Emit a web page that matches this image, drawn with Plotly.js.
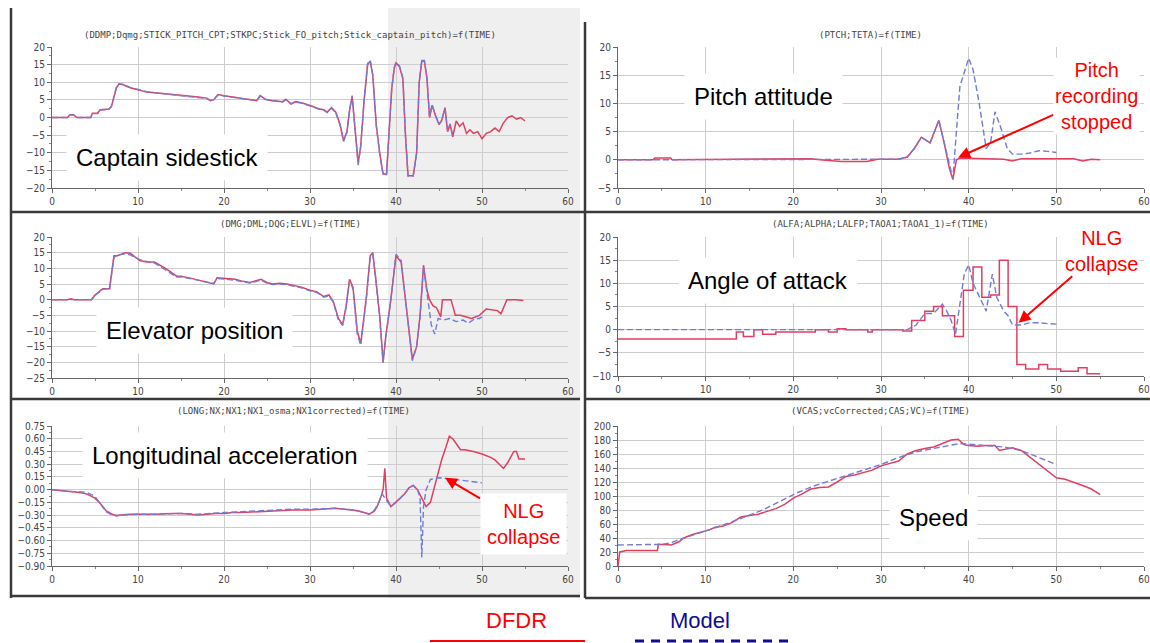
<!DOCTYPE html>
<html>
<head>
<meta charset="utf-8">
<script src="https://cdn.plot.ly/plotly-3.0.1.min.js"></script>
<style>html,body{margin:0;padding:0;background:#fff;}#chart{width:1150px;height:643px;}</style>
</head>
<body>
<div id="chart"></div>
<script>
// ---------- DATA ----------
// Captain sidestick
const stickTime = [0,1.8,2.1,2.5,2.9,4.5,4.7,5.3,5.6,6.6,6.9,7.2,7.5,7.8,8.3,9,10,11,12,13,14,15,16,17,18,18.4,18.8,19.3,20,21,22,23,23.8,24.2,24.8,25.5,26.2,26.8,27.2,27.8,28.3,29,30,31,31.6,32,32.5,33,33.5,33.9,34.3,34.6,34.9,35.2,35.6,35.9,36.3,36.7,37,37.3,37.7,38.1,38.5,38.9,39.2,39.5,39.8,40,40.4,40.8,41.1,41.4,42,42.4,42.7,43,43.3,43.6,43.9,44.2,44.6,45,45.3,45.7,46,46.3,46.6,47,47.4,47.8,48.2,48.6,49,49.5,50,50.5,51,51.5,52,52.5,53,53.5,54,54.5,55];
const stickDFDR = [0,0,0.8,0.8,0,0,1.2,1.2,2.2,2.4,3,6,8.5,9.5,9.3,8.5,7.8,7.2,7,6.8,6.5,6.3,6,5.8,5.5,4.8,5,6.5,6.2,5.8,5.5,5,4.8,6.2,5.2,4.8,4.6,4.5,5.2,3.8,4.5,4.2,3.4,2.5,2.2,1.5,2.8,1.5,-2,-6.5,-4,2,6,-2,-13,-8,5,15,16,12,-2,-10,-16,-16,-5,8,14,15.5,14.5,11,-5,-16.5,-16.5,-10,10,16,16,11,0,3.5,0.5,-2,-1,2.8,-4,-2,-5.5,-1,-2.5,-1.5,-4.5,-3.5,-4.5,-4,-6,-4.5,-4,-3,-4,-1.5,0,0.5,-0.5,0,-1];
const stickModelTime = [0,1.8,2.1,2.5,2.9,4.5,4.7,5.3,5.6,6.6,6.9,7.2,7.5,7.8,8.3,9,10,11,12,13,14,15,16,17,18,18.4,18.8,19.3,20,21,22,23,23.8,24.2,24.8,25.5,26.2,26.8,27.2,27.8,28.3,29,30,31,31.6,32,32.5,33,33.5,33.9,34.3,34.6,34.9,35.2,35.6,35.9,36.3,36.7,37,37.3,37.7,38.1,38.5,38.9,39.2,39.5,39.8,40,40.4,40.8,41.1,41.4,42,42.4,42.7,43,43.3,43.6,43.9,44.2,44.6,45,45.3,45.7,46,46.3,46.6,47];
const stickModel = [0,0,0.7,0.7,0,0,1.1,1.1,2.1,2.3,3.2,6.2,8.7,9.6,9.4,8.6,7.9,7.3,7,6.7,6.4,6.2,5.9,5.6,5.4,4.9,5.1,6.4,6.1,5.7,5.4,5.1,4.8,6,5.1,4.8,4.5,4.4,5,3.9,4.4,4.1,3.3,2.4,2.1,1.4,2.6,1.3,-2.2,-6.8,-4.2,2.2,6.2,-2.2,-13.5,-8.2,5.2,15.3,16.2,12.2,-2.2,-10.3,-16.2,-16.2,-5.2,8.2,14.3,15.7,14.6,11.2,-5.2,-16.6,-16.6,-10.2,10.2,16.2,16.2,11.2,0.2,3.6,0.6,-1.8,-0.8,2.6,-3.8,-1.8,-5.2];

// Pitch attitude
const pitchTime = [0,4,4.2,6,6.2,19.3,19.8,22,23,25.5,28.4,29.6,32,33,33.8,34.6,35.6,36.6,37.2,37.8,38.2,38.6,39,40,42,44,45,46,48,50,52,53,54,55];
const pitchDFDR = [0,0,0.3,0.3,0,0.1,0.2,0.2,0,-0.3,-0.3,0.1,0.1,0.5,2,4,3,7,3,-1.5,-3.5,0,0.3,0.3,0.2,0.1,-0.2,0.2,0.2,0.1,0.2,-0.2,0.1,0];
const pitchModelTime = [0,10,20,30,32,33,33.8,34.6,35.6,36.6,37.2,37.8,38.2,38.6,39,40,40.5,41.2,42,42.5,43,43.6,44.4,45,46,47,48,49,50];
const pitchModel = [0,0,0,0,0.1,0.5,2,4,3,7,3,-1,-3.3,5,13,18,16,10,2,3,8.5,6,2,1,1,1.2,1.6,1.5,1.3];

// Elevator position
const elevTime = [0,1.8,2.2,2.6,4.6,5,5.9,6.7,7.2,7.6,8.5,9.1,10.2,11,11.9,13.2,14.5,15,16.2,17.5,18.8,19.2,20,21.3,22,23,24.3,25,25.6,26.5,27.3,28,29,30,30.8,31.6,32.2,32.7,33.3,33.8,34.2,34.6,35,35.5,35.9,36.3,36.6,37,37.3,37.6,38.1,38.5,38.8,39.4,40,40.6,41,41.3,41.9,42.4,42.8,43.2,43.6,43.9,44.3,44.7,45.2,45.4,46.4,46.9,47.5,48.8,49.7,50.5,51.8,52.2,52.9,54,54.8];
const elevDFDR = [0,0,0.3,0,0,1.5,3.5,3.5,14,14,15,14.8,12.5,12,12,10,7.5,7.5,6.8,6,5,7,6.8,6.5,6,5.5,6.5,5.5,5,5.2,5,4.5,4,3,2.5,1,1.5,-0.5,-6,-8,-2,6.5,4,-10,-14,-5,2,14,15,8,-5,-20,-12,0,14,12,2,-6,-19,-15,-5,11,3,0,-2,-2.5,-5.5,0,0,-5,-5,-6,-5,-3,-3.5,-4.5,0,0,-0.3];
const elevModelTime = [0,1.8,2.2,2.6,4.6,5,5.9,6.7,7.2,7.6,8.5,9.1,10.2,11,11.9,13.2,14.5,15,16.2,17.5,18.8,19.2,20,21.3,22,23,24.3,25,25.6,26.5,27.3,28,29,30,30.8,31.6,32.2,32.7,33.3,33.8,34.2,34.6,35,35.5,35.9,36.3,36.6,37,37.3,37.6,38.1,38.5,38.8,39.4,40,40.6,41,41.3,41.9,42.4,42.8,43.2,43.6,44.1,44.5,44.9,45.5,46.2,47,47.8,48.4,49.2,49.7,50];
const elevModel = [0,0,0.2,0,0,1.3,3.3,3.6,13.5,14.2,14.6,14.3,12.8,12.2,11.7,9.5,7.2,7.3,6.6,5.8,5.2,6.8,6.6,6.2,5.8,5.3,6.2,5.3,4.8,5,4.8,4.3,3.8,2.8,2.3,0.8,1.2,-0.8,-6.5,-8.3,-2.5,6,3.5,-11,-14.5,-5.5,1.5,13.5,14.5,7.5,-5.5,-20,-12.5,0,14.5,12.5,2.5,-5.5,-19.5,-15,-5.5,10.5,2,-8,-11,-6,-6.5,-6,-7,-6.5,-7.5,-6,-6,-5.5];

// Angle of attack
const aoaTime = [0,13.5,14.3,15.5,16.5,18,22.5,24,25,26,28.5,29,32.5,33.5,35,36,37,38.4,39.4,40.5,41.5,42.5,43.5,44.5,45.5,46.5,48,49,50.5,52.5,53.5,55];
const aoaDFDR = [-2,-0.5,-1.5,0,-1,-0.5,0,-0.5,0.2,0,-0.5,0,-0.3,2,4,5,3,-1.5,8.5,13.5,7,7.5,15,5,-7.5,-8.5,-7.5,-8.5,-9,-8.2,-9.5,-9.5];
const aoaModelTime = [0,10,20,30,33,34,35,36,36.5,37,37.5,38,38.5,39,39.5,40,40.5,41,41.5,42,42.7,43.2,44,44.5,45,46,47,48,49,50];
const aoaModel = [0,0,0,0,0,1,3.5,3.5,4.5,5.5,4,2,-1,5,12,14,10,8,6,4,12,7,4,3,1,1,1.5,1.5,1.3,1.2];

// Longitudinal acceleration
const nxTime = [0,1,2,3,4,5,5.5,6.3,7,7.5,8,9,10,12,14,15,16,17,18,19,20,21,22,24,26,27,28,30,32,33,34,35,36,36.9,37.5,37.8,38.2,38.5,38.7,38.9,39.4,40,40.5,41,41.5,42,42.5,43,43.5,44,44.4,44.8,45.3,45.8,46.2,46.6,47.5,48,49,50,51,51.5,52,52.5,53,53.7,54,54.3,55];
const nxDFDR = [0,-0.01,-0.02,-0.03,-0.05,-0.1,-0.15,-0.25,-0.29,-0.31,-0.3,-0.29,-0.29,-0.29,-0.28,-0.28,-0.29,-0.3,-0.29,-0.28,-0.28,-0.27,-0.27,-0.26,-0.25,-0.25,-0.24,-0.24,-0.23,-0.22,-0.23,-0.24,-0.26,-0.29,-0.25,-0.2,-0.1,0,0.25,-0.1,-0.2,-0.15,-0.1,-0.05,0.02,0.05,0,-0.1,-0.2,-0.15,0,0.15,0.35,0.5,0.63,0.6,0.47,0.47,0.45,0.42,0.38,0.35,0.3,0.25,0.32,0.45,0.45,0.36,0.36];
const nxModelTime = [0,2,4,5,5.5,6.3,7,8,10,12,15,17,20,22,25,28,30,32,33,35,36,36.9,37.5,38,38.4,38.7,39.4,40,40.5,41,41.5,42,42.5,42.8,43,43.2,43.5,44,45,46,47,48.5,50];
const nxModel = [0,-0.02,-0.03,-0.08,-0.15,-0.26,-0.3,-0.3,-0.29,-0.29,-0.28,-0.29,-0.27,-0.26,-0.25,-0.23,-0.23,-0.22,-0.22,-0.24,-0.26,-0.29,-0.24,-0.15,-0.05,-0.1,-0.2,-0.15,-0.1,-0.05,0.02,0.05,0,-0.1,-0.8,-0.2,0,0.12,0.14,0.13,0.12,0.1,0.08];

// Speed
const spdTime = [0,0.2,1,4.5,4.6,6,6.1,7,7.5,8.5,9.5,10.5,11,12,13,14,15,16,17,18,19,20,21,22,23,24,25,26,27,28,29,30,31,32,33,34,35,36,37,38,38.8,39.5,40,41,42,43,43.5,44,45,46,47,48,49,50,51,52,53,54,55];
const spdDFDR = [0,20,22,22,31,31,30,35,40,45,48,52,55,57,62,70,72,74,78,82,88,97,103,110,112,113,120,128,130,133,137,143,147,150,160,165,168,170,175,180,181,173,172,171,172,172,165,166,169,165,155,145,135,126,124,120,115,110,102];
const spdModelTime = [0,5,6,7.5,10,13,16.5,19,20.5,22.5,25,27.5,30,32,34,36,38,39,40,42,44,46,47.5,49,50];
const spdModel = [30,31,33,40,50,63,80,95,105,115,125,135,145,155,163,168,173,175,174,172,170,165,157,150,145];

// Text
const panelTitles = [
  "(DDMP;Dqmg;STICK_PITCH_CPT;STKPC;Stick_FO_pitch;Stick_captain_pitch)=f(TIME)",
  "(PTCH;TETA)=f(TIME)",
  "(DMG;DML;DQG;ELVL)=f(TIME)",
  "(ALFA;ALPHA;LALFP;TAOA1;TAOA1_1)=f(TIME)",
  "(LONG;NX;NX1;NX1_osma;NX1corrected)=f(TIME)",
  "(VCAS;vcCorrected;CAS;VC)=f(TIME)"
];
const panelLabels = ["Captain sidestick","Pitch attitude","Elevator position","Angle of attack","Longitudinal acceleration","Speed"];
const seriesNames = ["DFDR","Model"];

// ---------- LAYOUT HELPERS ----------
const W = 1150, H = 643;
const px = x => x / W;
const py = y => 1 - y / H;
const redLine = 'rgb(226,62,96)';
const blueLine = 'rgb(112,124,214)';

function dfdr(x, y, ax, shape) {
  return {x, y, xaxis: 'x' + ax, yaxis: 'y' + ax, type: 'scatter', mode: 'lines', name: seriesNames[0],
    line: {color: redLine, width: 1.5, shape: shape || 'linear'}, showlegend: false, hoverinfo: 'skip'};
}
function model(x, y, ax) {
  return {x, y, xaxis: 'x' + ax, yaxis: 'y' + ax, type: 'scatter', mode: 'lines', name: seriesNames[1],
    line: {color: blueLine, width: 1.4, dash: '6px,3px'}, showlegend: false, hoverinfo: 'skip'};
}

const data = [
  dfdr(stickTime, stickDFDR, ''), model(stickModelTime, stickModel, ''),
  dfdr(pitchTime, pitchDFDR, '2'), model(pitchModelTime, pitchModel, '2'),
  dfdr(elevTime, elevDFDR, '3'), model(elevModelTime, elevModel, '3'),
  dfdr(aoaTime, aoaDFDR, '4', 'hv'), model(aoaModelTime, aoaModel, '4'),
  dfdr(nxTime, nxDFDR, '5'), model(nxModelTime, nxModel, '5'),
  dfdr(spdTime, spdDFDR, '6'), model(spdModelTime, spdModel, '6')
];

const tickFont = {family: 'DejaVu Sans Condensed, DejaVu Sans, sans-serif', size: 10, color: '#444'};
function xAxis(x0, x1, anchor) {
  return {domain: [px(x0), px(x1)], anchor, range: [0, 60], tick0: 0, dtick: 10,
    showgrid: true, gridcolor: '#cdcdcd', gridwidth: 1, zeroline: false,
    showline: true, linecolor: '#666', linewidth: 1, ticks: 'outside', ticklen: 4, tickcolor: '#666',
    tickfont: tickFont, minor: {dtick: 5, ticks: 'outside', ticklen: 2, tickcolor: '#888', showgrid: false},
    fixedrange: true};
}
function yAxis(y0, y1, anchor, range, dtick, fmt) {
  const a = {domain: [py(y1), py(y0)], anchor, range, tick0: 0, dtick,
    showgrid: true, gridcolor: '#cdcdcd', gridwidth: 1, zeroline: false,
    showline: true, linecolor: '#666', linewidth: 1, ticks: 'outside', ticklen: 4, tickcolor: '#666',
    tickfont: tickFont, minor: {dtick: dtick / 2, ticks: 'outside', ticklen: 2, tickcolor: '#888', showgrid: false},
    fixedrange: true};
  if (fmt) a.tickformat = fmt;
  return a;
}

const LX0 = 52, LX1 = 568, RX0 = 618, RX1 = 1144;
const layout = {
  width: W, height: H, margin: {l: 0, r: 0, t: 0, b: 0},
  paper_bgcolor: '#ffffff', plot_bgcolor: 'rgba(0,0,0,0)',
  showlegend: false,
  xaxis: xAxis(LX0, LX1, 'y'),   yaxis: yAxis(47, 188, 'x', [-20, 20], 5),
  xaxis2: xAxis(RX0, RX1, 'y2'), yaxis2: yAxis(47, 188, 'x2', [-5, 20], 5),
  xaxis3: xAxis(LX0, LX1, 'y3'), yaxis3: yAxis(237, 378, 'x3', [-25, 20], 5),
  xaxis4: xAxis(RX0, RX1, 'y4'), yaxis4: yAxis(237, 376, 'x4', [-10, 20], 5),
  xaxis5: xAxis(LX0, LX1, 'y5'), yaxis5: yAxis(426, 566, 'x5', [-0.9, 0.75], 0.15, '.2f'),
  xaxis6: xAxis(RX0, RX1, 'y6'), yaxis6: yAxis(426, 566, 'x6', [0, 200], 20),
  shapes: [],
  annotations: []
};

// Gray pasted inset on the left column
layout.shapes.push({type: 'rect', xref: 'paper', yref: 'paper', x0: px(388), x1: px(580), y0: py(598), y1: py(8),
  fillcolor: '#efefef', line: {width: 0}, layer: 'below'});
// Panel frames
const frame = {color: '#3a3a3a', width: 2.5};
[[11, 8, 11, 598], [585, 22, 585, 598], [11, 212, 1150, 212], [11, 399, 580, 399], [585, 399, 1150, 399],
 [11, 596, 580, 596], [585, 598, 1150, 598]].forEach(s => {
  layout.shapes.push({type: 'line', xref: 'paper', yref: 'paper', x0: px(s[0]), y0: py(s[1]), x1: px(s[2]), y1: py(s[3]), line: frame});
});

// Panel titles
const titlePos = [[290, 35], [870, 35], [290, 224], [880, 224], [293, 411], [880, 411]];
panelTitles.forEach((t, i) => {
  layout.annotations.push({text: t, xref: 'paper', yref: 'paper', x: px(titlePos[i][0]), y: py(titlePos[i][1]),
    xanchor: 'center', yanchor: 'middle', showarrow: false,
    font: {family: 'DejaVu Sans Mono, monospace', size: 9, color: '#444'}});
});

// Big labels in white boxes
const labelPos = [[167, 158], [763, 97], [194, 330], [768, 280], [225, 455], [933, 517]];
panelLabels.forEach((t, i) => {
  layout.annotations.push({text: t, xref: 'paper', yref: 'paper', x: px(labelPos[i][0]), y: py(labelPos[i][1]),
    xanchor: 'center', yanchor: 'middle', showarrow: false, bgcolor: '#ffffff', borderpad: 9,
    font: {family: 'Liberation Sans, Arial, sans-serif', size: 24, color: '#000'}});
});

// Red callouts
const redFont = {family: 'Liberation Sans, Arial, sans-serif', size: 20, color: '#ff0000'};
layout.annotations.push({text: 'Pitch<br>recording<br>stopped', xref: 'x2', yref: 'y2', x: 38.8, y: 0.4,
  ax: 138, ay: -62, showarrow: true, arrowhead: 2, arrowsize: 1.2, arrowwidth: 2, arrowcolor: '#ff0000',
  font: redFont, bgcolor: '#ffffff', align: 'center'});
layout.annotations.push({text: 'NLG<br>collapse', xref: 'x4', yref: 'y4', x: 45.7, y: 1.5,
  ax: 83, ay: -72, showarrow: true, arrowhead: 2, arrowsize: 1.2, arrowwidth: 2, arrowcolor: '#ff0000',
  font: redFont, bgcolor: '#ffffff', align: 'center'});
layout.annotations.push({text: 'NLG<br>collapse', xref: 'x5', yref: 'y5', x: 45.7, y: 0.14,
  ax: 78, ay: 46, showarrow: true, arrowhead: 2, arrowsize: 1.2, arrowwidth: 2, arrowcolor: '#ff0000',
  font: redFont, bgcolor: '#ffffff', borderpad: 6, align: 'center'});

// Legend (text above sample line)
layout.annotations.push({text: seriesNames[0], xref: 'paper', yref: 'paper', x: px(516), y: py(620), showarrow: false,
  xanchor: 'center', yanchor: 'middle', font: {family: 'Liberation Sans, Arial, sans-serif', size: 22, color: '#ff0000'}});
layout.annotations.push({text: seriesNames[1], xref: 'paper', yref: 'paper', x: px(700), y: py(620), showarrow: false,
  xanchor: 'center', yanchor: 'middle', font: {family: 'Liberation Sans, Arial, sans-serif', size: 22, color: '#0d0d96'}});
layout.shapes.push({type: 'line', xref: 'paper', yref: 'paper', x0: px(430), x1: px(585), y0: py(641), y1: py(641),
  line: {color: '#ff0000', width: 2}});
layout.shapes.push({type: 'line', xref: 'paper', yref: 'paper', x0: px(635), x1: px(795), y0: py(641), y1: py(641),
  line: {color: '#0d0d96', width: 3, dash: '9px,7px'}});

Plotly.newPlot('chart', data, layout, {displayModeBar: false, staticPlot: true});
</script>
</body>
</html>
